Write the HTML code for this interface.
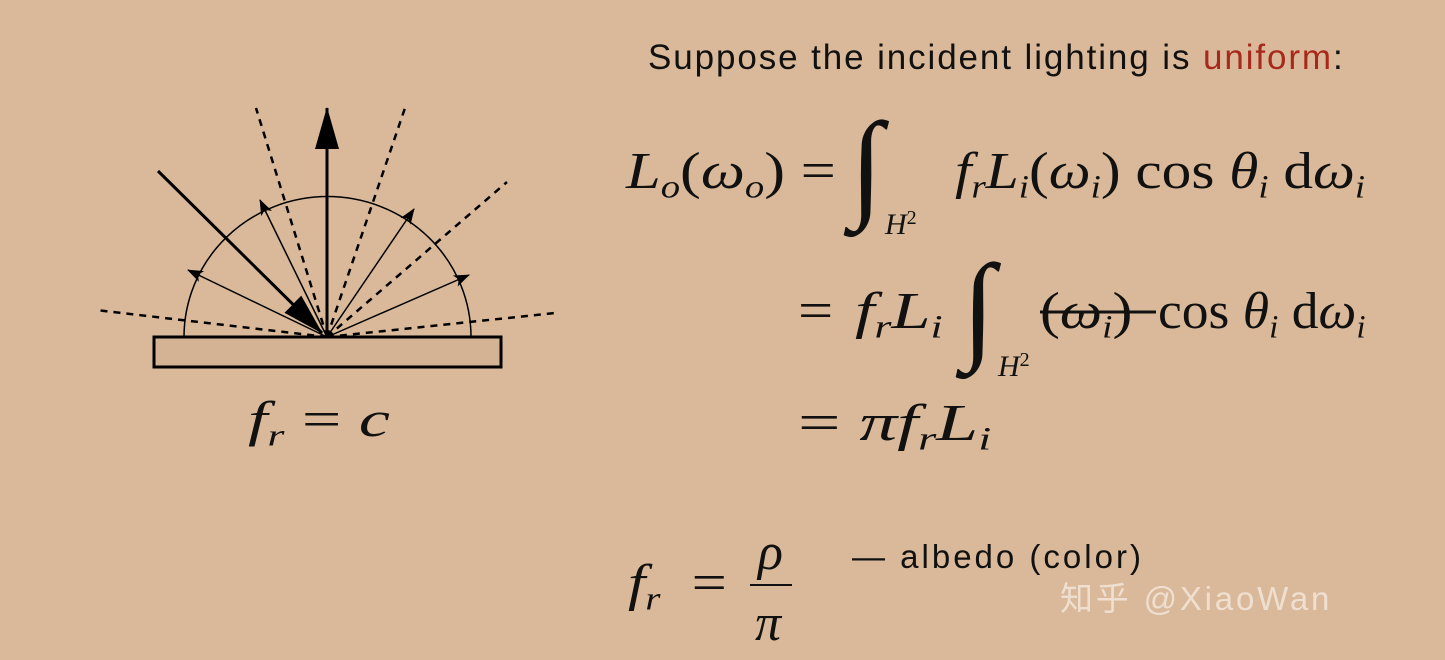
<!DOCTYPE html>
<html><head><meta charset="utf-8"><style>
body{margin:0;width:1445px;height:660px;background:#d9b999;overflow:hidden;position:relative;font-family:"Liberation Serif",serif;}
.t{position:absolute;white-space:nowrap;color:#111}
.p{position:absolute;white-space:nowrap;color:#111;font-family:"Liberation Serif",serif;font-size:52px;line-height:52px;transform-origin:left center}
.ig{position:absolute;color:#111;font-family:"Liberation Serif",serif;font-size:120px;line-height:120px}
.h{position:absolute;color:#111;font-family:"Liberation Serif",serif;font-size:30px;line-height:30px;font-style:italic}
.h span{font-style:normal;font-size:20px;vertical-align:10px}
i{font-style:italic}
sub{font-size:0.62em;vertical-align:-0.3em;line-height:0}
</style></head><body>
<svg width="1445" height="660" style="position:absolute;left:0;top:0">
<defs>
<marker id="sa" markerWidth="16" markerHeight="14" refX="15" refY="7" orient="auto" markerUnits="userSpaceOnUse"><path d="M0,1 L16,7 L0,13 L4,7z" fill="#000"/></marker>
<marker id="ba" markerWidth="42" markerHeight="26" refX="41" refY="13" orient="auto" markerUnits="userSpaceOnUse"><path d="M0,1 L42,13 L0,25z" fill="#000"/></marker>
</defs>
<rect x="154" y="337" width="347" height="30" fill="#d4b394" stroke="#000" stroke-width="3"/>
<path d="M184,337 A143,140 0 0 1 471,337" fill="none" stroke="#000" stroke-width="1.5"/>
<g stroke="#000" stroke-width="2.5" stroke-dasharray="7,6">
<line x1="327" y1="337" x2="256" y2="108"/><line x1="327" y1="337" x2="405" y2="108"/>
<line x1="327" y1="337" x2="507" y2="182"/><line x1="327" y1="337" x2="96" y2="310"/>
<line x1="327" y1="337" x2="555" y2="313"/>
</g>
<g stroke="#000" stroke-width="1.5">
<line x1="327" y1="337" x2="188" y2="270" marker-end="url(#sa)"/>
<line x1="327" y1="337" x2="260" y2="200" marker-end="url(#sa)"/>
<line x1="327" y1="337" x2="414" y2="209" marker-end="url(#sa)"/>
<line x1="327" y1="337" x2="469" y2="275" marker-end="url(#sa)"/>
</g>
<line x1="327" y1="337" x2="327" y2="108" stroke="#000" stroke-width="3" marker-end="url(#ba)"/>
<line x1="158" y1="171" x2="322" y2="333" stroke="#000" stroke-width="3" marker-end="url(#ba)"/>
<line x1="1040" y1="312" x2="1156" y2="312" stroke="#111" stroke-width="3"/>
<line x1="750" y1="585" x2="792" y2="585" stroke="#111" stroke-width="2"/>
</svg>
<div class="p" style="left:248px;top:393px;font-size:50px;transform:scaleX(1.4)"><i>f<sub>r</sub></i> = <i>c</i></div>
<div class="t" style="left:648px;top:38px;font-family:'Liberation Sans',sans-serif;font-size:35px;letter-spacing:1.9px">Suppose the incident lighting is <span style="color:#a8281c">uniform</span>:</div>

<div class="p" style="left:626px;top:146px;transform:scaleX(1.2)"><i>L<sub>o</sub></i>(<i>ω<sub>o</sub></i>) =</div>
<div class="ig" style="left:850px;top:105px">∫</div>
<div class="h" style="left:885px;top:203px">H<span>2</span></div>
<div class="p" style="left:955px;top:146px;transform:scaleX(1.14)"><i>f<sub>r</sub>L<sub>i</sub></i>(<i>ω<sub>i</sub></i>) cos <i>θ<sub>i</sub></i> d<i>ω<sub>i</sub></i></div>

<div class="p" style="left:798px;top:286px;transform:scaleX(1.2)">=</div>
<div class="p" style="left:855px;top:286px;transform:scaleX(1.35)"><i>f<sub>r</sub>L<sub>i</sub></i></div>
<div class="ig" style="left:962px;top:247px">∫</div>
<div class="h" style="left:998px;top:345px">H<span>2</span></div>
<div class="p" style="left:1040px;top:286px;transform:scaleX(1.15)">(<i>ω<sub>i</sub></i>)</div>
<div class="p" style="left:1158px;top:286px;transform:scaleX(1.03)">cos <i>θ<sub>i</sub></i> d<i>ω<sub>i</sub></i></div>

<div class="p" style="left:798px;top:398px;transform:scaleX(1.45)">= <i>πf<sub>r</sub>L<sub>i</sub></i></div>

<div class="p" style="left:628px;top:558px;transform:scaleX(1.2)"><i>f<sub>r</sub></i> &nbsp;=</div>
<div class="p" style="left:758px;top:527px"><i>ρ</i></div>
<div class="p" style="left:755px;top:598px"><i>π</i></div>
<div class="t" style="left:852px;top:538px;font-family:'Liberation Sans',sans-serif;font-size:33px;letter-spacing:3px">— albedo (color)</div>
<div class="t" style="left:1060px;top:572px;font-family:'Liberation Sans','Noto Sans CJK SC',sans-serif;font-size:33px;letter-spacing:2.8px;color:rgba(255,255,255,0.55)">知乎 @XiaoWan</div>
</body></html>
